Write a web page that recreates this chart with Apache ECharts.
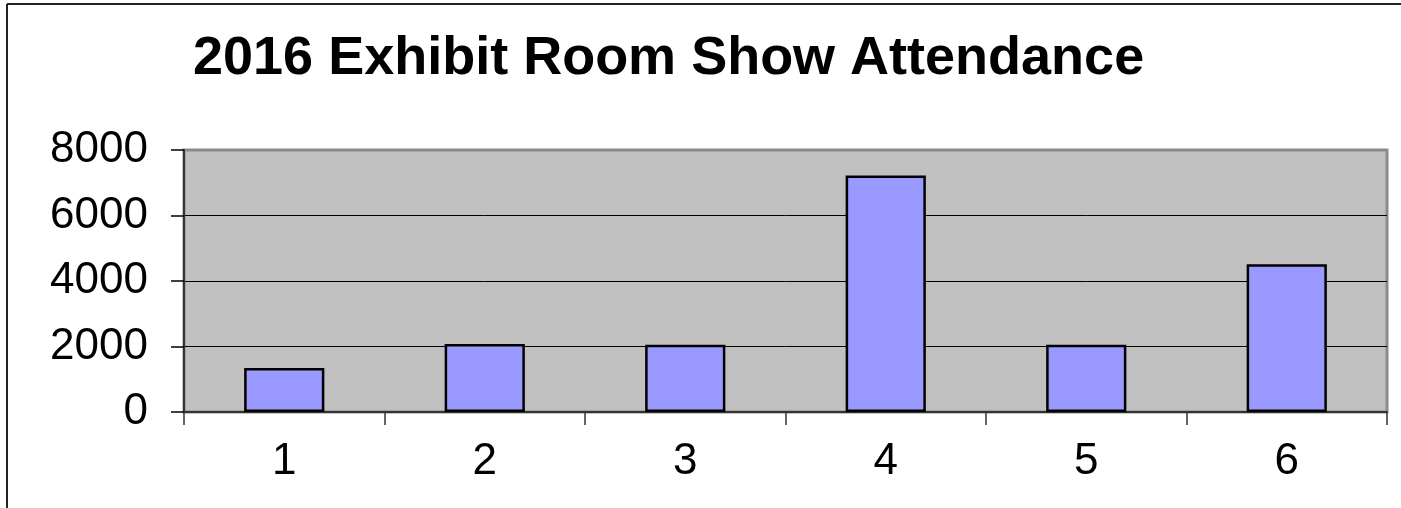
<!DOCTYPE html>
<html>
<head>
<meta charset="utf-8">
<script src="https://cdn.jsdelivr.net/npm/echarts@6/dist/echarts.min.js"></script>
<style>
html,body{margin:0;padding:0;background:#fff;}
#chart{width:1401px;height:508px;}
</style>
</head>
<body>
<div id="chart"></div>
<script>
const titleText = '2016 Exhibit Room Show Attendance';
const categories = ['1', '2', '3', '4', '5', '6'];
const attendance = [1340, 2080, 2050, 7220, 2050, 4510];
const yTicks = [0, 2000, 4000, 6000, 8000];

const FONT = '"Liberation Sans", Arial, sans-serif';
const chart = echarts.init(document.getElementById('chart'), null, {renderer: 'canvas'});
chart.setOption({
  animation: false,
  backgroundColor: '#ffffff',
  title: {
    text: titleText,
    left: 193,
    top: 32,
    padding: 0,
    textStyle: {fontFamily: FONT, fontSize: 54, fontWeight: 'bold', color: '#000', lineHeight: 54}
  },
  graphic: [
    {type: 'line', shape: {x1: 7, y1: 4, x2: 1401, y2: 4}, style: {stroke: '#222', lineWidth: 2}},
    {type: 'line', shape: {x1: 7, y1: 4, x2: 7, y2: 508}, style: {stroke: '#222', lineWidth: 2}}
  ],
  grid: {
    left: 184, top: 150, right: 14, bottom: 96,
    show: true, backgroundColor: '#C0C0C0', borderColor: '#8a8a8a', borderWidth: 3,
    containLabel: false
  },
  xAxis: {
    type: 'category',
    data: categories,
    boundaryGap: true,
    axisLine: {show: true, lineStyle: {color: '#333', width: 2}},
    axisTick: {show: true, length: 13, alignWithLabel: false, lineStyle: {color: '#333', width: 1.5}},
    axisLabel: {fontFamily: FONT, fontSize: 44, color: '#000', margin: 28}
  },
  yAxis: {
    type: 'value',
    min: yTicks[0],
    max: yTicks[yTicks.length - 1],
    interval: yTicks[1] - yTicks[0],
    axisLine: {show: true, lineStyle: {color: '#333', width: 2}},
    axisTick: {show: true, length: 13, lineStyle: {color: '#000', width: 1.5}},
    axisLabel: {fontFamily: FONT, fontSize: 44, color: '#000', margin: 36, formatter: function (v) { return String(v); }},
    splitLine: {show: true, lineStyle: {color: ['#000', '#000', '#000', '#000', '#8a8a8a'], width: 1}}
  },
  series: [{
    type: 'bar',
    data: attendance,
    barWidth: '40%',
    itemStyle: {color: '#9999FF', borderColor: '#000', borderWidth: 2.5}
  }]
});
</script>
</body>
</html>
